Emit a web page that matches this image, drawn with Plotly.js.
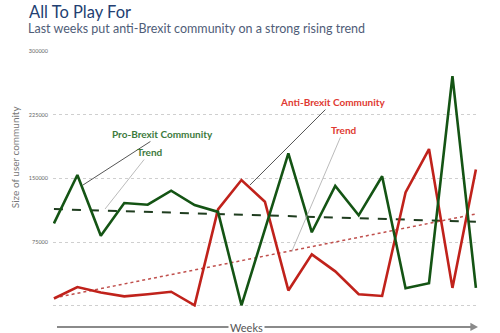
<!DOCTYPE html>
<html>
<head>
<meta charset="utf-8">
<script src="https://cdn.plot.ly/plotly-3.0.1.min.js"></script>
<style>html,body{margin:0;padding:0;background:#fff;}#chart{width:500px;height:333px;}</style>
</head>
<body>
<div id="chart"></div>
<script>
const weeks = [0,1,2,3,4,5,6,7,8,9,10,11,12,13,14,15,16,17,18];
const proBrexit = [97000,154000,82500,121000,119000,135500,118500,110500,500,89500,179500,86500,141000,106500,152500,20500,26500,270500,21000];
const antiBrexit = [8500,22000,15500,11000,13500,16500,500,113500,148000,122500,18000,60500,40500,13500,11500,133500,184500,21000,160500];
const trendX = [0,18];
const proTrend = [113800,98900];
const antiTrend = [9200,108000];
const yTicks = [0,75000,150000,225000,300000];
const yTickText = ['', '75000', '150000', '225000', '300000'];

const traces = [
  {x: trendX, y: proTrend, mode:'lines', line:{color:'#1f3d1f', width:2, dash:'dash'}, hoverinfo:'skip'},
  {x: trendX, y: antiTrend, mode:'lines', line:{color:'#c0504d', width:1.5, dash:'dot'}, hoverinfo:'skip'},
  {x: weeks, y: antiBrexit, mode:'lines', line:{color:'#c0221b', width:2.6}},
  {x: weeks, y: proBrexit, mode:'lines', line:{color:'#145414', width:2.6}}
];

const labelFont = {family:'Lato, "Open Sans", sans-serif', size:10};
const layout = {
  width:500, height:333,
  margin:{l:53, r:22, t:51, b:26},
  paper_bgcolor:'#fff', plot_bgcolor:'#fff',
  showlegend:false,
  font:{family:'Lato, "Open Sans", sans-serif'},
  xaxis:{range:[-0.04,18.09], showgrid:false, zeroline:false, showticklabels:false, ticks:'', showline:false},
  yaxis:{range:[-1500,300000], tickvals:yTicks, ticktext:yTickText, showgrid:true, gridcolor:'#cfcfcf', griddash:'dot', gridwidth:1,
         zeroline:false, showline:false, ticks:'', tickfont:{size:5.5, color:'#666', family:'Lato, sans-serif'}, ticklabelstandoff:4},
  shapes:[
    {type:'line', xref:'paper', yref:'paper', x0:0.0094, x1:0.99, y0:-0.078, y1:-0.078, line:{color:'#8a8a8a', width:2}},
    {type:'path', xref:'paper', yref:'paper', path:'M 0.982 -0.062 L 1.0 -0.078 L 0.982 -0.094 Z', fillcolor:'#8a8a8a', line:{color:'#8a8a8a', width:0}}
  ],
  annotations:[
    {xref:'paper', yref:'paper', x:-0.059, y:1.197, xanchor:'left', yanchor:'top', showarrow:false, borderpad:0,
     text:'All To Play For', font:{family:'Lato, sans-serif', size:16.5, color:'#233f72'}},
    {xref:'paper', yref:'paper', x:-0.062, y:1.087, xanchor:'left', yanchor:'middle', showarrow:false, borderpad:0,
     text:'Last weeks put anti-Brexit community on a strong rising trend', font:{family:'Lato, sans-serif', size:12.5, color:'#4f5d78'}},
    {xref:'paper', yref:'paper', x:-0.089, y:0.586, xanchor:'center', yanchor:'middle', showarrow:false, textangle:-90,
     text:'Size of user community', font:{family:'Lato, sans-serif', size:10, color:'#777'}},
    {xref:'paper', yref:'paper', x:0.456, y:-0.08, xanchor:'center', yanchor:'middle', showarrow:false, bgcolor:'#fff',
     text:'Weeks', font:{family:'Lato, sans-serif', size:11, color:'#555'}},
    {x:1.24, y:142200, ax:79, ay:-51, text:'<b>Pro-Brexit Community</b>', showarrow:true, arrowhead:0, arrowwidth:1, arrowcolor:'#555',
     font:Object.assign({}, labelFont, {color:'#3d7a3d'})},
    {x:2.18, y:113900, ax:45, ay:-57, text:'<b>Trend</b>', showarrow:true, arrowhead:0, arrowwidth:0.8, arrowcolor:'#aaa',
     font:Object.assign({}, labelFont, {color:'#3d7a3d'})},
    {x:8.36, y:142100, ax:83, ay:-83, text:'<b>Anti-Brexit Community</b>', showarrow:true, arrowhead:0, arrowwidth:1, arrowcolor:'#555',
     font:Object.assign({}, labelFont, {color:'#e03a32'})},
    {x:10.14, y:63600, ax:52, ay:-122, text:'<b>Trend</b>', showarrow:true, arrowhead:0, arrowwidth:0.8, arrowcolor:'#aaa',
     font:Object.assign({}, labelFont, {color:'#e03a32'})}
  ]
};
Plotly.newPlot('chart', traces, layout, {displayModeBar:false, staticPlot:true});
</script>
</body>
</html>
